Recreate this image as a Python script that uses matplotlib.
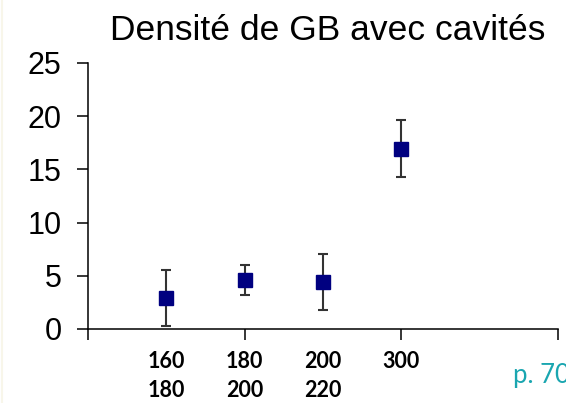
import numpy as np
import matplotlib.pyplot as plt
from matplotlib.lines import Line2D

# values
categories = ["160\n180", "180\n200", "200\n220", "300"]
density = [2.95, 4.6, 4.45, 16.95]
err_low = [2.65, 1.4, 2.65, 2.65]
err_high = [2.6, 1.4, 2.6, 2.7]
title = "Densité de GB avec cavités"

fig = plt.figure(figsize=(5.66, 4.03), dpi=100)
ax = fig.add_axes([88 / 566, 74 / 403, 470 / 566, 266 / 403])

x = np.arange(1, len(categories) + 1)
ax.errorbar(x, density, yerr=[err_low, err_high], fmt='none',
            ecolor='#333333', elinewidth=1.5, capsize=3.8, capthick=1.5, zorder=2)
ax.plot(x, density, linestyle='none', marker='s', markersize=10.2,
        color='#000080', zorder=3)

ax.set_xlim(0, 6)
ax.set_ylim(0, 25)

# y axis
ax.set_yticks(np.arange(0, 26, 5))
ax.tick_params(axis='y', direction='out', length=8, width=1.1, pad=11,
               labelsize=22)
for lab in ax.get_yticklabels():
    lab.set_family('Liberation Sans')

# x axis: boundary ticks, labels under points
ax.xaxis.remove_overlapping_locs = False
ax.set_xticks([0, 2, 4, 6])
ax.set_xticklabels([])
ax.set_xticks(x, minor=True)
ax.set_xticklabels(categories, minor=True, fontsize=15.5, fontweight='bold',
                   family='Lato', linespacing=1.45, va='top')
ax.tick_params(axis='x', which='major', direction='out', length=8, width=1.1)
ax.tick_params(axis='x', which='minor', length=0, pad=16)

for side in ('top', 'right'):
    ax.spines[side].set_visible(False)
for side in ('left', 'bottom'):
    ax.spines[side].set_linewidth(1.1)

fig.text(328 / 566, 1 - 30 / 403, title, ha='center', va='center',
         fontsize=25.5, family='Liberation Sans')

# page-number fragment, cut off at the right edge as in the slide
fig.text(513 / 566, 1 - 383 / 403, "p. 70", ha='left', va='baseline',
         fontsize=18.5, family='Lato', color='#1aa6b0')

# faint slide edge on the left
fig.add_artist(Line2D([1.5 / 566, 1.5 / 566], [0, 1], color='#f8f6ea', lw=1.5))

fig.savefig('out.png', dpi=100)
